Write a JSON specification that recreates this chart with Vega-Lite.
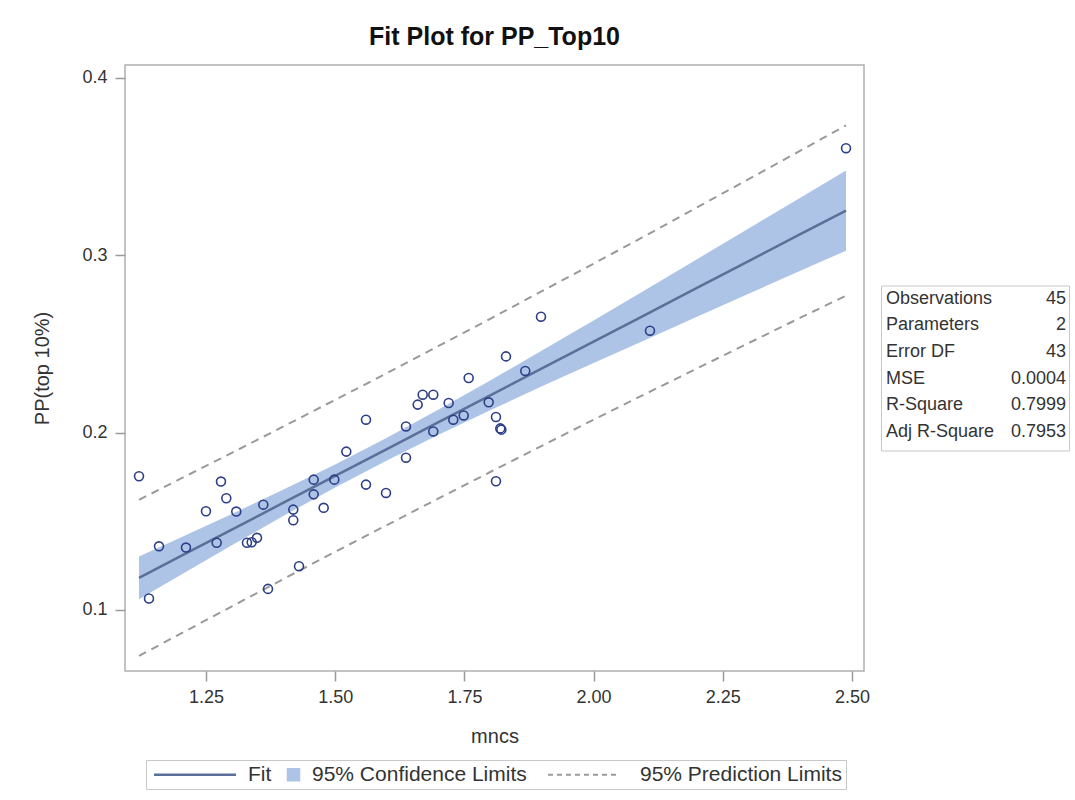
{
  "$schema": "https://vega.github.io/schema/vega-lite/v6.json",
  "padding": {"left": 32, "top": 24, "right": 5, "bottom": 5},
  "background": "white",
  "config": {
    "font": "Liberation Sans",
    "axis": {"domain": false, "grid": false, "tickColor": "#9a9a9a", "tickWidth": 1.5, "tickSize": 10,
             "labelFont": "Liberation Sans", "labelFontSize": 18, "labelColor": "#333333",
             "titleFont": "Liberation Sans", "titleFontSize": 20, "titleFontWeight": "normal", "titleColor": "#333333"},
    "axisX": {"labelPadding": 7, "titlePadding": 20},
    "axisY": {"labelPadding": 8, "titlePadding": 29}
  },
  "datasets": {
    "obs": [
      {"mncs": 1.1204, "pp": 0.1754}, {"mncs": 1.1397, "pp": 0.1065}, {"mncs": 1.1591, "pp": 0.1359},
      {"mncs": 1.2113, "pp": 0.1352}, {"mncs": 1.2500, "pp": 0.1557}, {"mncs": 1.2707, "pp": 0.1379},
      {"mncs": 1.2790, "pp": 0.1724}, {"mncs": 1.2893, "pp": 0.1630}, {"mncs": 1.3086, "pp": 0.1555},
      {"mncs": 1.3293, "pp": 0.1379}, {"mncs": 1.3384, "pp": 0.1382}, {"mncs": 1.3487, "pp": 0.1407},
      {"mncs": 1.3609, "pp": 0.1594}, {"mncs": 1.3700, "pp": 0.1119}, {"mncs": 1.4189, "pp": 0.1566},
      {"mncs": 1.4189, "pp": 0.1506}, {"mncs": 1.4300, "pp": 0.1247}, {"mncs": 1.4584, "pp": 0.1735},
      {"mncs": 1.4584, "pp": 0.1652}, {"mncs": 1.4777, "pp": 0.1576}, {"mncs": 1.4983, "pp": 0.1735},
      {"mncs": 1.5215, "pp": 0.1893}, {"mncs": 1.5596, "pp": 0.2073}, {"mncs": 1.5596, "pp": 0.1707},
      {"mncs": 1.5983, "pp": 0.1660}, {"mncs": 1.6370, "pp": 0.2035}, {"mncs": 1.6370, "pp": 0.1859},
      {"mncs": 1.6596, "pp": 0.2158}, {"mncs": 1.6693, "pp": 0.2214}, {"mncs": 1.6898, "pp": 0.2214},
      {"mncs": 1.6898, "pp": 0.2007}, {"mncs": 1.7196, "pp": 0.2167}, {"mncs": 1.7285, "pp": 0.2073},
      {"mncs": 1.7486, "pp": 0.2097}, {"mncs": 1.7583, "pp": 0.2308}, {"mncs": 1.7970, "pp": 0.2171},
      {"mncs": 1.8111, "pp": 0.2088}, {"mncs": 1.8111, "pp": 0.1726}, {"mncs": 1.8195, "pp": 0.2024},
      {"mncs": 1.8215, "pp": 0.2017}, {"mncs": 1.8305, "pp": 0.2430}, {"mncs": 1.8678, "pp": 0.2348},
      {"mncs": 1.8982, "pp": 0.2654}, {"mncs": 2.1091, "pp": 0.2575}, {"mncs": 2.4884, "pp": 0.3604}
    ],
    "band": [
      {"mncs": 1.1204, "fit": 0.1181, "clo": 0.1060, "chi": 0.1302, "plo": 0.0741, "phi": 0.1621},
      {"mncs": 1.2, "fit": 0.1302, "clo": 0.1196, "chi": 0.1408, "plo": 0.0865, "phi": 0.1739},
      {"mncs": 1.3, "fit": 0.1453, "clo": 0.1365, "chi": 0.1541, "plo": 0.1020, "phi": 0.1886},
      {"mncs": 1.4, "fit": 0.1605, "clo": 0.1531, "chi": 0.1679, "plo": 0.1175, "phi": 0.2035},
      {"mncs": 1.5, "fit": 0.1756, "clo": 0.1691, "chi": 0.1821, "plo": 0.1328, "phi": 0.2185},
      {"mncs": 1.6, "fit": 0.1907, "clo": 0.1843, "chi": 0.1971, "plo": 0.1479, "phi": 0.2335},
      {"mncs": 1.7, "fit": 0.2059, "clo": 0.1988, "chi": 0.2130, "plo": 0.1629, "phi": 0.2489},
      {"mncs": 1.8, "fit": 0.2210, "clo": 0.2126, "chi": 0.2294, "plo": 0.1778, "phi": 0.2642},
      {"mncs": 1.9, "fit": 0.2362, "clo": 0.2261, "chi": 0.2463, "plo": 0.1926, "phi": 0.2798},
      {"mncs": 2.0, "fit": 0.2513, "clo": 0.2393, "chi": 0.2633, "plo": 0.2073, "phi": 0.2953},
      {"mncs": 2.1, "fit": 0.2664, "clo": 0.2523, "chi": 0.2805, "plo": 0.2218, "phi": 0.3110},
      {"mncs": 2.2, "fit": 0.2816, "clo": 0.2654, "chi": 0.2978, "plo": 0.2362, "phi": 0.3270},
      {"mncs": 2.3, "fit": 0.2967, "clo": 0.2783, "chi": 0.3151, "plo": 0.2505, "phi": 0.3429},
      {"mncs": 2.4, "fit": 0.3119, "clo": 0.2913, "chi": 0.3325, "plo": 0.2648, "phi": 0.3590},
      {"mncs": 2.4884, "fit": 0.3252, "clo": 0.3026, "chi": 0.3478, "plo": 0.2772, "phi": 0.3732}
    ],
    "stats": [
      {"stat": "Observations", "value": "45"},
      {"stat": "Parameters", "value": "2"},
      {"stat": "Error DF", "value": "43"},
      {"stat": "MSE", "value": "0.0004"},
      {"stat": "R-Square", "value": "0.7999"},
      {"stat": "Adj R-Square", "value": "0.7953"}
    ]
  },
  "hconcat": [
    {
      "title": {"text": "Fit Plot for PP_Top10", "fontSize": 25, "fontWeight": "bold", "color": "#111111", "anchor": "middle", "offset": 15, "font": "Liberation Sans"},
      "width": 739,
      "height": 606,
      "view": {"stroke": "#b0b0b0", "strokeWidth": 1.5},
      "encoding": {
        "x": {"field": "mncs", "type": "quantitative",
              "scale": {"domain": [1.0933, 2.5232], "nice": false, "zero": false},
              "axis": {"title": "mncs", "values": [1.25, 1.5, 1.75, 2, 2.25, 2.5], "format": ".2f"}}
      },
      "layer": [
        {
          "data": {"name": "band"},
          "mark": {"type": "area", "opacity": 1},
          "encoding": {
            "y": {"field": "clo", "type": "quantitative", "title": "PP(top 10%)",
                  "scale": {"domain": [0.0656, 0.4073], "nice": false, "zero": false},
                  "axis": {"title": "PP(top 10%)", "values": [0.1, 0.2, 0.3, 0.4], "format": ".1f"}},
            "y2": {"field": "chi"},
            "color": {
              "datum": "95% Confidence Limits", "type": "nominal",
              "scale": {"domain": ["Fit", "95% Confidence Limits", "95% Prediction Limits"],
                        "range": ["#5b6f98", "#adc4e6", "#9a9a9a"]},
              "legend": {
                "orient": "none", "legendX": 21, "legendY": 695,
                "direction": "horizontal", "title": null,
                "symbolType": "stroke", "symbolSize": 144, "symbolStrokeWidth": 1,
                "labelFont": "Liberation Sans", "labelFontSize": 21, "labelColor": "#333333",
                "labelOffset": 8, "labelLimit": 800, "columnPadding": 11,
                "padding": 4, "strokeColor": "#c8c8c8", "fillColor": "white",
                "encoding": {
                  "symbols": {
                    "shape": {"value": {"expr": "datum.value === 'Fit' ? 'M-1.08,0L12.58,0' : datum.value === '95% Confidence Limits' ? 'M-1,-1L1,-1L1,1L-1,1Z' : 'M-0.09,0L11.91,0'"}},
                    "fill": {"value": {"expr": "datum.value === '95% Confidence Limits' ? '#adc4e6' : 'transparent'"}},
                    "stroke": {"value": {"expr": "datum.value === 'Fit' ? '#5b6f98' : datum.value === '95% Confidence Limits' ? '#3d5494' : '#9a9a9a'"}},
                    "strokeWidth": {"value": {"expr": "datum.value === 'Fit' ? 2.5 : datum.value === '95% Confidence Limits' ? 1.5 : 2"}},
                    "strokeDash": {"value": {"expr": "datum.value === '95% Prediction Limits' ? [5, 4] : []"}},
                    "opacity": {"value": 1},
                    "fillOpacity": {"value": 1},
                    "strokeOpacity": {"value": 1},
                    "size": {"value": 144}
                  },
                  "labels": {
                    "dx": {"value": {"expr": "datum.value === 'Fit' ? 69 : datum.value === '95% Prediction Limits' ? 73 : 0"}}
                  }
                }
              }
            }
          }
        },
        {
          "data": {"name": "band"},
          "mark": {"type": "line", "strokeWidth": 2, "strokeDash": [8, 6]},
          "encoding": {
            "y": {"field": "plo", "type": "quantitative", "title": "PP(top 10%)"},
            "color": {"datum": "95% Prediction Limits", "type": "nominal"}
          }
        },
        {
          "data": {"name": "band"},
          "mark": {"type": "line", "strokeWidth": 2, "strokeDash": [8, 6]},
          "encoding": {
            "y": {"field": "phi", "type": "quantitative", "title": "PP(top 10%)"},
            "color": {"datum": "95% Prediction Limits", "type": "nominal"}
          }
        },
        {
          "data": {"name": "band"},
          "mark": {"type": "line", "strokeWidth": 2.5},
          "encoding": {
            "y": {"field": "fit", "type": "quantitative", "title": "PP(top 10%)"},
            "color": {"datum": "Fit", "type": "nominal"}
          }
        },
        {
          "data": {"name": "obs"},
          "mark": {"type": "point", "shape": "circle", "filled": false, "color": "#2c3e86", "strokeWidth": 1.6, "size": 80, "opacity": 1},
          "encoding": {
            "y": {"field": "pp", "type": "quantitative", "title": "PP(top 10%)"}
          }
        }
      ]
    },
    {
      "width": 188,
      "height": 165,
      "view": {"stroke": "#c8c8c8", "strokeWidth": 1},
      "data": {"name": "stats"},
      "encoding": {
        "y": {"field": "stat", "type": "ordinal", "sort": null, "axis": null,
              "scale": {"type": "band", "paddingInner": 0, "paddingOuter": 0.1, "align": 0}}
      },
      "layer": [
        {
          "mark": {"type": "text", "align": "left", "baseline": "middle", "dx": 5, "fontSize": 18, "font": "Liberation Sans", "color": "#333333"},
          "encoding": {
            "x": {"datum": 0, "type": "quantitative", "scale": {"domain": [0, 1]}, "axis": null},
            "text": {"field": "stat"}
          }
        },
        {
          "mark": {"type": "text", "align": "right", "baseline": "middle", "dx": -3, "fontSize": 18, "font": "Liberation Sans", "color": "#333333"},
          "encoding": {
            "x": {"datum": 1, "type": "quantitative", "axis": null},
            "text": {"field": "value"}
          }
        }
      ]
    }
  ],
  "spacing": 17,
  "bounds": "flush",
  "center": true
}
